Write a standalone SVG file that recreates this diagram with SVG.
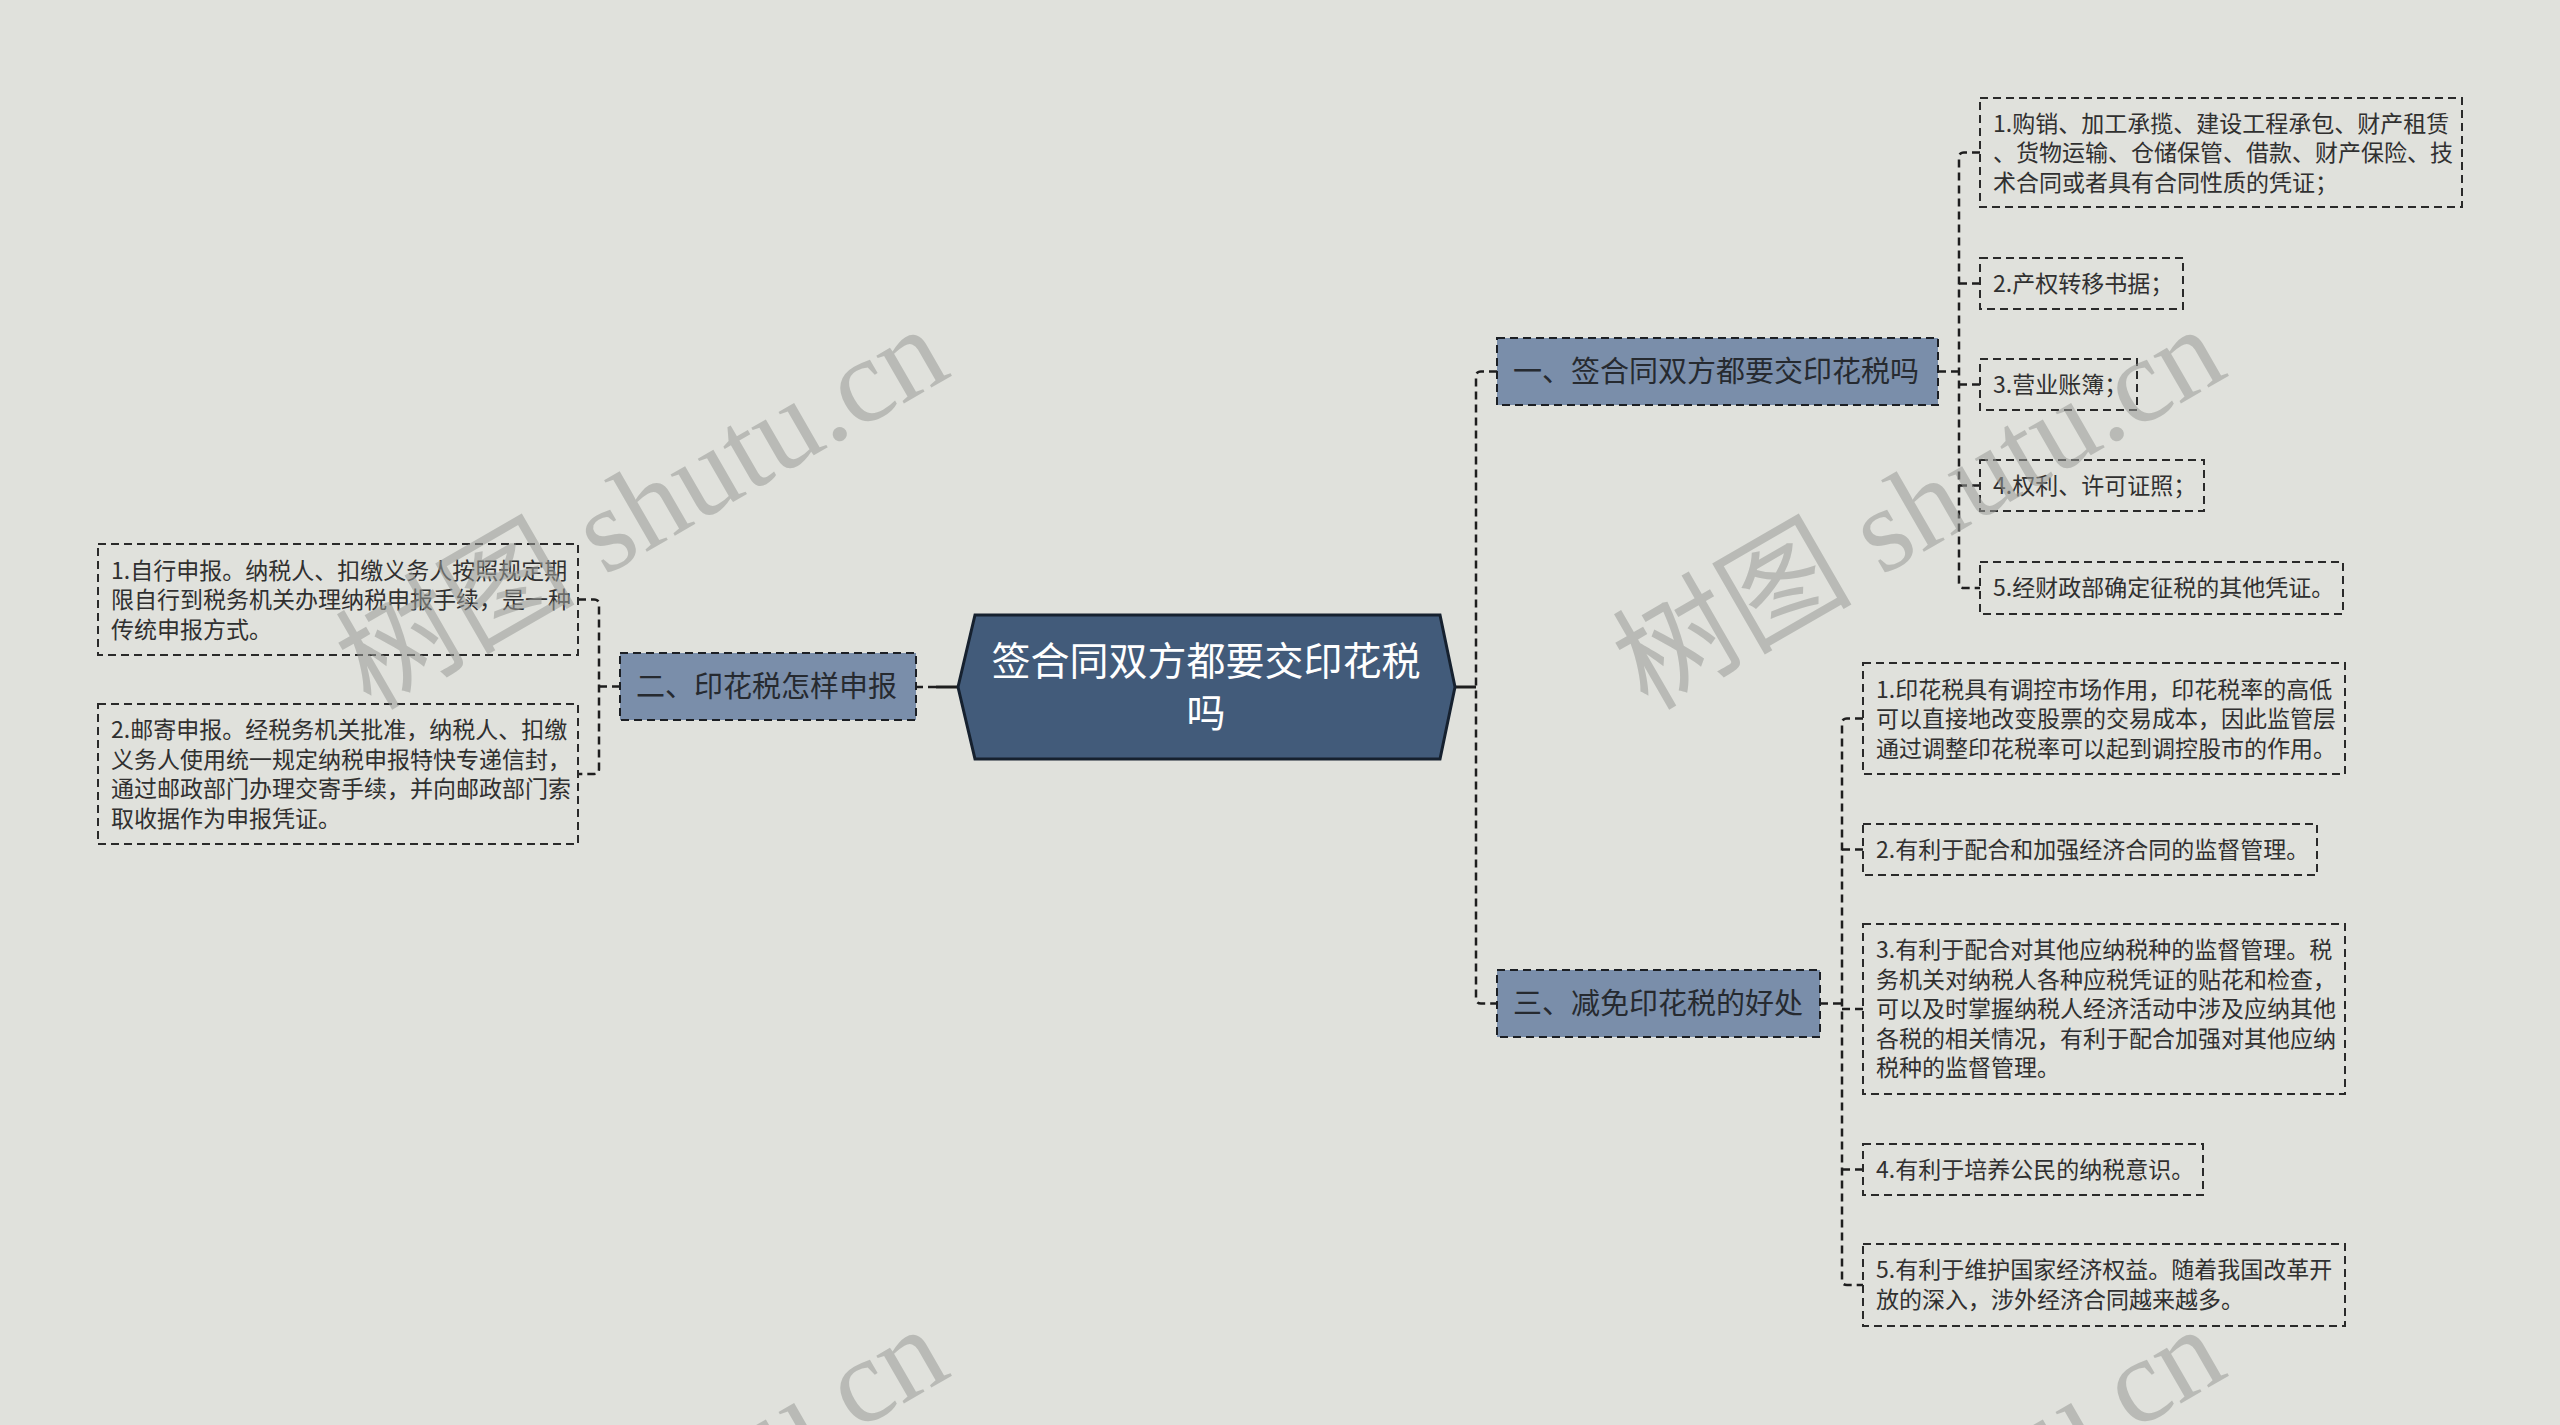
<svg xmlns="http://www.w3.org/2000/svg" width="2560" height="1425" viewBox="0 0 2560 1425">
<style>
.bg{fill:#e0e1dc}
.center{fill:#425b7a;stroke:#16212f;stroke-width:3}
.ctext{font-family:"Noto Sans CJK SC","Noto Sans",sans-serif;font-size:39px;fill:#ffffff;text-anchor:middle}
.branch{fill:#7a8eaa;stroke:#1c1f24;stroke-width:2;stroke-dasharray:8 5}
.btext{font-family:"Noto Sans CJK SC","Noto Sans",sans-serif;font-size:29px;fill:#262a30}
.leaf{fill:none;stroke:#2a2a2a;stroke-width:2;stroke-dasharray:8 5}
.ltext{font-family:"Noto Sans CJK SC","Noto Sans",sans-serif;font-size:23px;fill:#303030}
.conn{fill:none;stroke:#1e1e1e;stroke-width:2.5;stroke-dasharray:8 5}
.solid{fill:none;stroke:#1e1e1e;stroke-width:3}
.wm{font-family:"Liberation Serif","Noto Sans CJK SC",serif;font-size:120px;fill:#9a9c98;opacity:0.55;text-anchor:middle}
</style>
<rect class="bg" x="0" y="0" width="2560" height="1425"/>

<g id="connectors">
  <path class="solid" d="M1455,687 H1476"/>
  <path class="conn" d="M1497,371.5 H1481 Q1476,371.5 1476,376.5 V998.5 Q1476,1003.5 1481,1003.5 H1497"/>
  <path class="solid" d="M958,687 H936"/>
  <path class="conn" d="M936,687 H916"/>
  <path class="conn" d="M620,686.5 H599"/>
  <path class="conn" d="M578,599.5 H594 Q599,599.5 599,604.5 V769 Q599,774 594,774 H578"/>
  <path class="conn" d="M1938,371.5 H1959"/>
  <path class="conn" d="M1980,152.5 H1964 Q1959,152.5 1959,157.5 V583 Q1959,588 1964,588 H1980"/>
  <path class="conn" d="M1959,283.5 H1980"/>
  <path class="conn" d="M1959,384.5 H1980"/>
  <path class="conn" d="M1959,485.5 H1980"/>
  <path class="conn" d="M1820,1003.5 H1842"/>
  <path class="conn" d="M1863,718.5 H1847 Q1842,718.5 1842,723.5 V1280 Q1842,1285 1847,1285 H1863"/>
  <path class="conn" d="M1842,849.5 H1863"/>
  <path class="conn" d="M1842,1009 H1863"/>
  <path class="conn" d="M1842,1169.5 H1863"/>
</g>

<g id="center">
  <polygon class="center" points="958,687 975,615 1440,615 1455,687 1440,759 975,759"/>
  <text class="ctext" x="1206" y="675">签合同双方都要交印花税</text>
  <text class="ctext" x="1206" y="727">吗</text>
</g>

<g id="branch1">
  <rect class="branch" x="1497" y="338" width="441" height="67"/>
  <text class="btext" x="1513" y="382">一、签合同双方都要交印花税吗</text>
</g>
<g id="branch2">
  <rect class="branch" x="620" y="653" width="296" height="67"/>
  <text class="btext" x="636" y="697">二、印花税怎样申报</text>
</g>
<g id="branch3">
  <rect class="branch" x="1497" y="970" width="323" height="67"/>
  <text class="btext" x="1513" y="1014">三、减免印花税的好处</text>
</g>

<g id="b1-leaf1">
  <rect class="leaf" x="1980" y="98" width="482" height="109"/>
  <text class="ltext" x="1993" y="131.5">1.购销、加工承揽、建设工程承包、财产租赁</text>
  <text class="ltext" x="1993" y="161">、货物运输、仓储保管、借款、财产保险、技</text>
  <text class="ltext" x="1993" y="190.5">术合同或者具有合同性质的凭证；</text>
</g>
<g id="b1-leaf2">
  <rect class="leaf" x="1980" y="258" width="203" height="51"/>
  <text class="ltext" x="1993" y="291.5">2.产权转移书据；</text>
</g>
<g id="b1-leaf3">
  <rect class="leaf" x="1980" y="359" width="157" height="51"/>
  <text class="ltext" x="1993" y="392.5">3.营业账簿；</text>
</g>
<g id="b1-leaf4">
  <rect class="leaf" x="1980" y="460" width="224" height="51"/>
  <text class="ltext" x="1993" y="493.5">4.权利、许可证照；</text>
</g>
<g id="b1-leaf5">
  <rect class="leaf" x="1980" y="562" width="363" height="52"/>
  <text class="ltext" x="1993" y="596">5.经财政部确定征税的其他凭证。</text>
</g>

<g id="b3-leaf1">
  <rect class="leaf" x="1863" y="663" width="482" height="111"/>
  <text class="ltext" x="1876" y="697.5">1.印花税具有调控市场作用，印花税率的高低</text>
  <text class="ltext" x="1876" y="727">可以直接地改变股票的交易成本，因此监管层</text>
  <text class="ltext" x="1876" y="756.5">通过调整印花税率可以起到调控股市的作用。</text>
</g>
<g id="b3-leaf2">
  <rect class="leaf" x="1863" y="824" width="454" height="51"/>
  <text class="ltext" x="1876" y="857.5">2.有利于配合和加强经济合同的监督管理。</text>
</g>
<g id="b3-leaf3">
  <rect class="leaf" x="1863" y="924" width="482" height="170"/>
  <text class="ltext" x="1876" y="958">3.有利于配合对其他应纳税种的监督管理。税</text>
  <text class="ltext" x="1876" y="987.5">务机关对纳税人各种应税凭证的贴花和检查，</text>
  <text class="ltext" x="1876" y="1017">可以及时掌握纳税人经济活动中涉及应纳其他</text>
  <text class="ltext" x="1876" y="1046.5">各税的相关情况，有利于配合加强对其他应纳</text>
  <text class="ltext" x="1876" y="1076">税种的监督管理。</text>
</g>
<g id="b3-leaf4">
  <rect class="leaf" x="1863" y="1144" width="340" height="51"/>
  <text class="ltext" x="1876" y="1177.5">4.有利于培养公民的纳税意识。</text>
</g>
<g id="b3-leaf5">
  <rect class="leaf" x="1863" y="1244" width="482" height="82"/>
  <text class="ltext" x="1876" y="1278.25">5.有利于维护国家经济权益。随着我国改革开</text>
  <text class="ltext" x="1876" y="1307.75">放的深入，涉外经济合同越来越多。</text>
</g>

<g id="b2-leaf1">
  <rect class="leaf" x="98" y="544" width="480" height="111"/>
  <text class="ltext" x="111" y="578.5">1.自行申报。纳税人、扣缴义务人按照规定期</text>
  <text class="ltext" x="111" y="608">限自行到税务机关办理纳税申报手续，是一种</text>
  <text class="ltext" x="111" y="637.5">传统申报方式。</text>
</g>
<g id="b2-leaf2">
  <rect class="leaf" x="98" y="704" width="480" height="140"/>
  <text class="ltext" x="111" y="738">2.邮寄申报。经税务机关批准，纳税人、扣缴</text>
  <text class="ltext" x="111" y="767.5">义务人使用统一规定纳税申报特快专递信封，</text>
  <text class="ltext" x="111" y="797">通过邮政部门办理交寄手续，并向邮政部门索</text>
  <text class="ltext" x="111" y="826.5">取收据作为申报凭证。</text>
</g>

<g id="watermarks">
  <text class="wm" transform="translate(662,543) rotate(-30)">树图 shutu.cn</text>
  <text class="wm" transform="translate(1939,543) rotate(-30)">树图 shutu.cn</text>
  <text class="wm" transform="translate(662,1543) rotate(-30)">树图 shutu.cn</text>
  <text class="wm" transform="translate(1939,1543) rotate(-30)">树图 shutu.cn</text>
</g>
</svg>
